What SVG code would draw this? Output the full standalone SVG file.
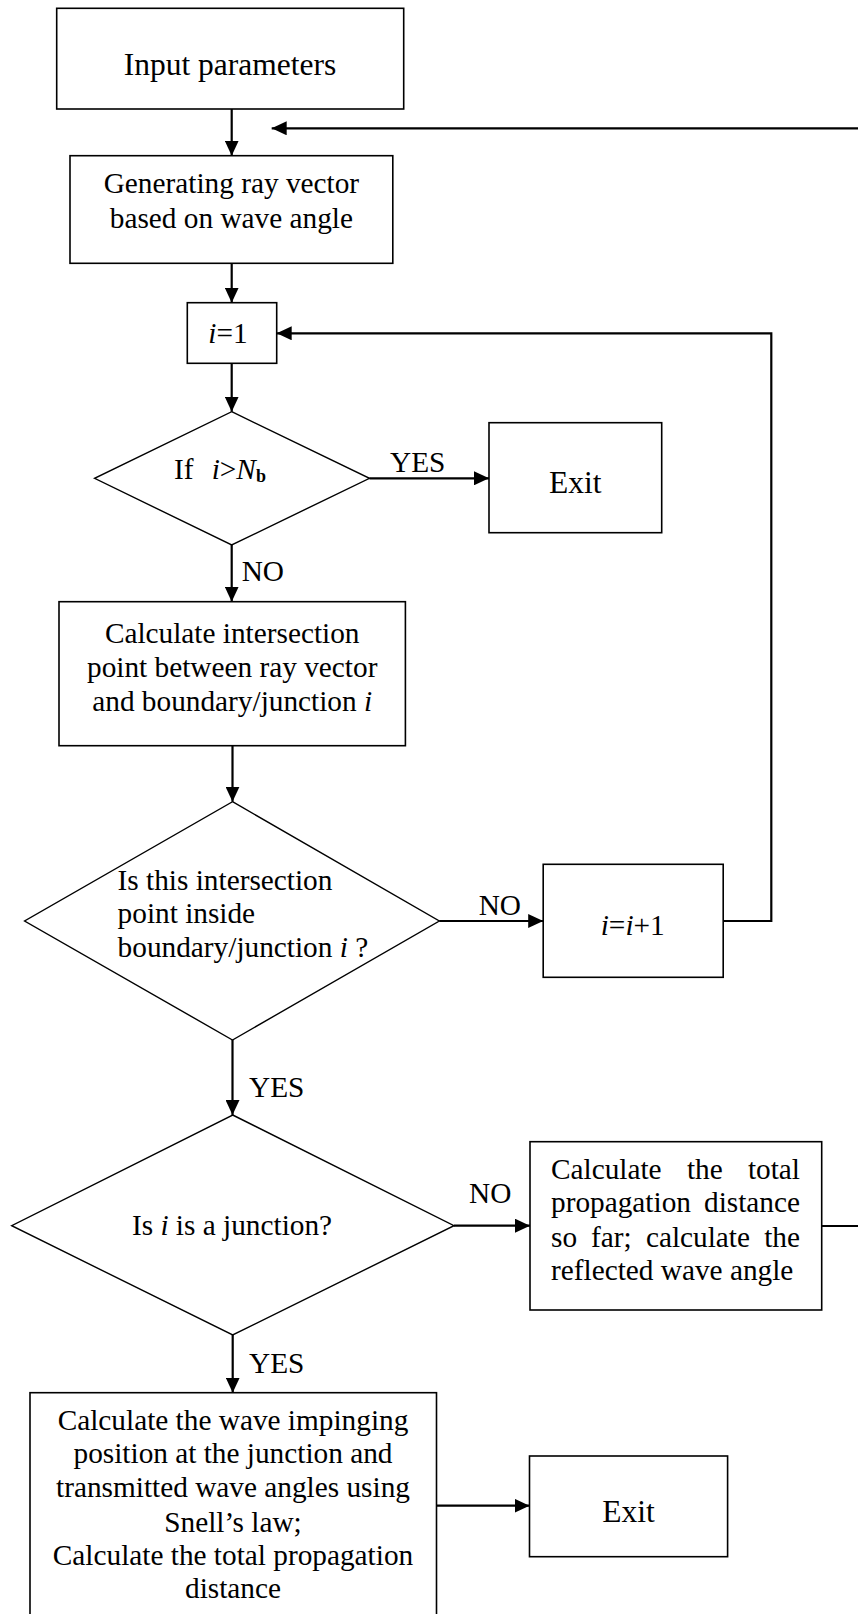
<svg xmlns="http://www.w3.org/2000/svg" width="858" height="1614" viewBox="0 0 858 1614">
<style>
text{font-family:"Liberation Serif","Times New Roman",serif;font-size:29.3px;fill:#000}
.big{font-size:31.5px}
.c{text-anchor:middle}
.e{text-anchor:end}
.box{fill:#fff;stroke:#000;stroke-width:1.6}
.dia{fill:#fff;stroke:#000;stroke-width:1.4}
.con{fill:none;stroke:#000;stroke-width:2.2}
.it{font-style:italic}
</style>
<defs>
<marker id="ah" markerUnits="userSpaceOnUse" markerWidth="16" markerHeight="14" refX="15" refY="7" orient="auto">
<path d="M0,0 L15,7 L0,14 Z" fill="#000"/>
</marker>
</defs>
<rect width="858" height="1614" fill="#fff"/>
<g id="connectors">
<path class="con" d="M231.7,109 V155.7" marker-end="url(#ah)"/>
<path class="con" d="M858,128.3 H271.7" marker-end="url(#ah)"/>
<path class="con" d="M231.7,263.3 V302.7" marker-end="url(#ah)"/>
<path class="con" d="M231.7,363.3 V411.7" marker-end="url(#ah)"/>
<path class="con" d="M369.5,478.3 H489" marker-end="url(#ah)"/>
<path class="con" d="M231.7,545 V601.7" marker-end="url(#ah)"/>
<path class="con" d="M232.5,745.7 V801.7" marker-end="url(#ah)"/>
<path class="con" d="M439.3,921 H543.2" marker-end="url(#ah)"/>
<path class="con" d="M723.2,921 H771.3 V333.3 H276.7" marker-end="url(#ah)"/>
<path class="con" d="M232.5,1040 V1115" marker-end="url(#ah)"/>
<path class="con" d="M454,1225.7 H530" marker-end="url(#ah)"/>
<path class="con" d="M821.7,1226 H858"/>
<path class="con" d="M232.7,1335 V1392.7" marker-end="url(#ah)"/>
<path class="con" d="M436.5,1505.7 H529.5" marker-end="url(#ah)"/>
<text x="390" y="471.7">YES</text>
<text x="241.7" y="581">NO</text>
<text x="478.7" y="915">NO</text>
<text x="249" y="1096.7">YES</text>
<text x="469" y="1203.3">NO</text>
<text x="249" y="1373.3">YES</text>
</g>
<g id="input">
<rect class="box" x="56.7" y="8.3" width="347" height="100.7"/>
<text class="big c" x="230" y="75">Input parameters</text>
</g>
<g id="generate">
<rect class="box" x="70" y="155.7" width="322.8" height="107.6"/>
<text class="c" x="231.4" y="193.3">Generating ray vector</text>
<text class="c" x="231.4" y="227.7">based on wave angle</text>
</g>
<g id="init">
<rect class="box" x="187.3" y="302.7" width="89.4" height="60.6"/>
<text class="c" x="228" y="343.3"><tspan class="it">i</tspan>=1</text>
</g>
<g id="check-nb">
<polygon class="dia" points="231.7,411.7 369.5,478.3 231.7,545 94.6,478.3"/>
<text x="174" y="479">If<tspan x="211.7" class="it">i</tspan>&gt;<tspan class="it">N</tspan><tspan font-weight="bold" font-size="18" dy="3">b</tspan></text>
</g>
<g id="exit1">
<rect class="box" x="489" y="422.7" width="172.7" height="110"/>
<text class="big c" x="575.3" y="493.3">Exit</text>
</g>
<g id="intersect">
<rect class="box" x="59" y="601.7" width="346.4" height="144"/>
<text class="c" x="232.2" y="643.3">Calculate intersection</text>
<text class="c" x="232.2" y="677.3">point between ray vector</text>
<text class="c" x="232.2" y="710.7">and boundary/junction <tspan class="it">i</tspan></text>
</g>
<g id="check-inside">
<polygon class="dia" points="232.5,801.7 439.3,921 232.5,1040 24.6,921"/>
<text x="117.6" y="890">Is this intersection</text>
<text x="117.6" y="923.3">point inside</text>
<text x="117.6" y="956.7">boundary/junction <tspan class="it">i</tspan> ?</text>
</g>
<g id="increment">
<rect class="box" x="543.2" y="864.3" width="180" height="113"/>
<text class="c" x="632.7" y="935"><tspan class="it">i</tspan>=<tspan class="it">i</tspan>+1</text>
</g>
<g id="check-junction">
<polygon class="dia" points="232.7,1115 454,1225.7 232.7,1335 11.7,1225.7"/>
<text class="c" x="232" y="1235">Is <tspan class="it">i</tspan> is a junction?</text>
</g>
<g id="reflect">
<rect class="box" x="530" y="1141.7" width="291.7" height="168.3"/>
<text y="1179"><tspan x="551">Calculate</tspan><tspan x="686.9">the</tspan></text>
<text class="e" x="800" y="1179">total</text>
<text x="551" y="1212.3">propagation</text>
<text class="e" x="800" y="1212.3">distance</text>
<text y="1246.7"><tspan x="551">so</tspan><tspan x="591.1">far;</tspan><tspan x="645.9">calculate</tspan></text>
<text class="e" x="800" y="1246.7">the</text>
<text x="551" y="1280">reflected wave angle</text>
</g>
<g id="transmit">
<rect class="box" x="30" y="1392.7" width="406.5" height="240"/>
<text class="c" x="233" y="1430">Calculate the wave impinging</text>
<text class="c" x="233" y="1463.3">position at the junction and</text>
<text class="c" x="233" y="1497.3">transmitted wave angles using</text>
<text class="c" x="233" y="1531.7">Snell’s law;</text>
<text class="c" x="233" y="1565">Calculate the total propagation</text>
<text class="c" x="233" y="1598.3">distance</text>
</g>
<g id="exit2">
<rect class="box" x="529.5" y="1456" width="198.1" height="100.7"/>
<text class="big c" x="628.6" y="1521.7">Exit</text>
</g>
</svg>
